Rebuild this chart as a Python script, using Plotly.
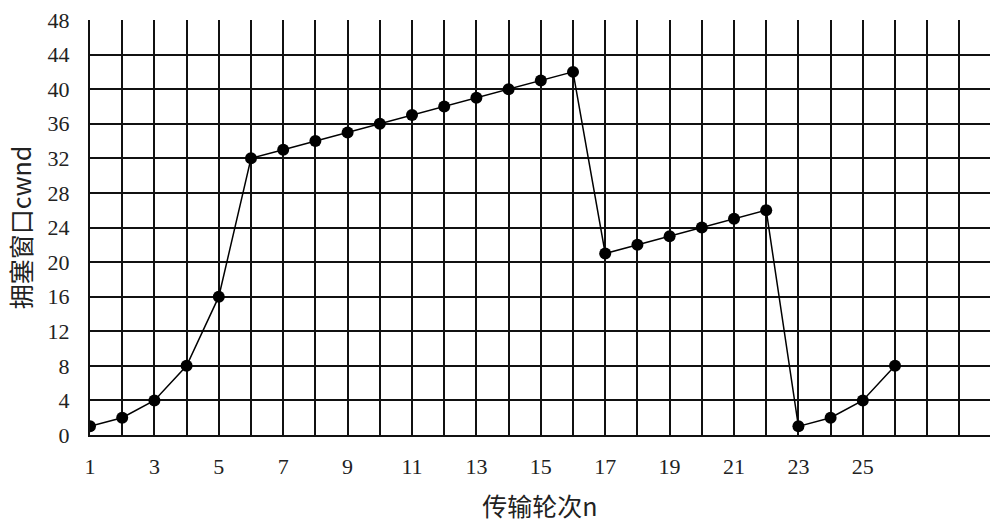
import plotly.graph_objects as go

rounds = list(range(1, 27))
cwnd = [1, 2, 4, 8, 16, 32, 33, 34, 35, 36, 37, 38, 39, 40, 41, 42,
        21, 22, 23, 24, 25, 26, 1, 2, 4, 8]
x_ticks = list(range(1, 27, 2))
y_ticks = list(range(0, 49, 4))

serif = "Liberation Serif, Noto Sans CJK SC, serif"
cjk = "Noto Sans CJK SC, Liberation Serif, serif"
ink = "#111"

fig = go.Figure()
fig.add_trace(go.Scatter(
    x=rounds, y=cwnd, mode="lines+markers",
    line=dict(color="black", width=1.5),
    marker=dict(color="black", size=12),
    showlegend=False,
))
# invisible helper so the label axis is drawn
fig.add_trace(go.Scatter(x=[None], y=[None], yaxis="y2", showlegend=False,
                         hoverinfo="skip"))

fig.update_layout(
    width=1000, height=525,
    margin=dict(l=90, r=10, t=20, b=90, autoexpand=False),
    paper_bgcolor="white", plot_bgcolor="white",
    font=dict(family=serif, color="#222", size=22),
    xaxis=dict(
        range=[1, 28.95],
        tickvals=x_ticks,
        showgrid=True, gridcolor=ink, gridwidth=2,
        minor=dict(dtick=1, tick0=0, showgrid=True, gridcolor=ink, gridwidth=2),
        showline=True, linecolor=ink, linewidth=2,
        ticks="", ticklabelstandoff=11,
        tickfont=dict(family=serif, size=22),
        title=dict(text="传输轮次n", font=dict(family=cjk, size=25), standoff=20),
        zeroline=False,
    ),
    # grid only
    yaxis=dict(
        range=[0, 48],
        tickvals=y_ticks[:-1],
        showticklabels=False,
        showgrid=True, gridcolor=ink, gridwidth=2,
        showline=False, ticks="", zeroline=False,
    ),
    # labels and axis line, no grid (so nothing is drawn across the top)
    yaxis2=dict(
        overlaying="y", side="left", range=[0, 48],
        tickvals=y_ticks, showgrid=False, zeroline=False,
        showline=True, linecolor=ink, linewidth=2,
        ticks="inside", ticklen=7, tickcolor=ink, tickwidth=2,
        ticklabelstandoff=14,
        tickfont=dict(family=serif, size=22, color="#222"),
        title=dict(text="拥塞窗口cwnd", font=dict(family=cjk, size=25), standoff=9),
    ),
)

fig.write_html("out.html", config={"displayModeBar": False},
               post_script="document.body.style.margin='0';")
